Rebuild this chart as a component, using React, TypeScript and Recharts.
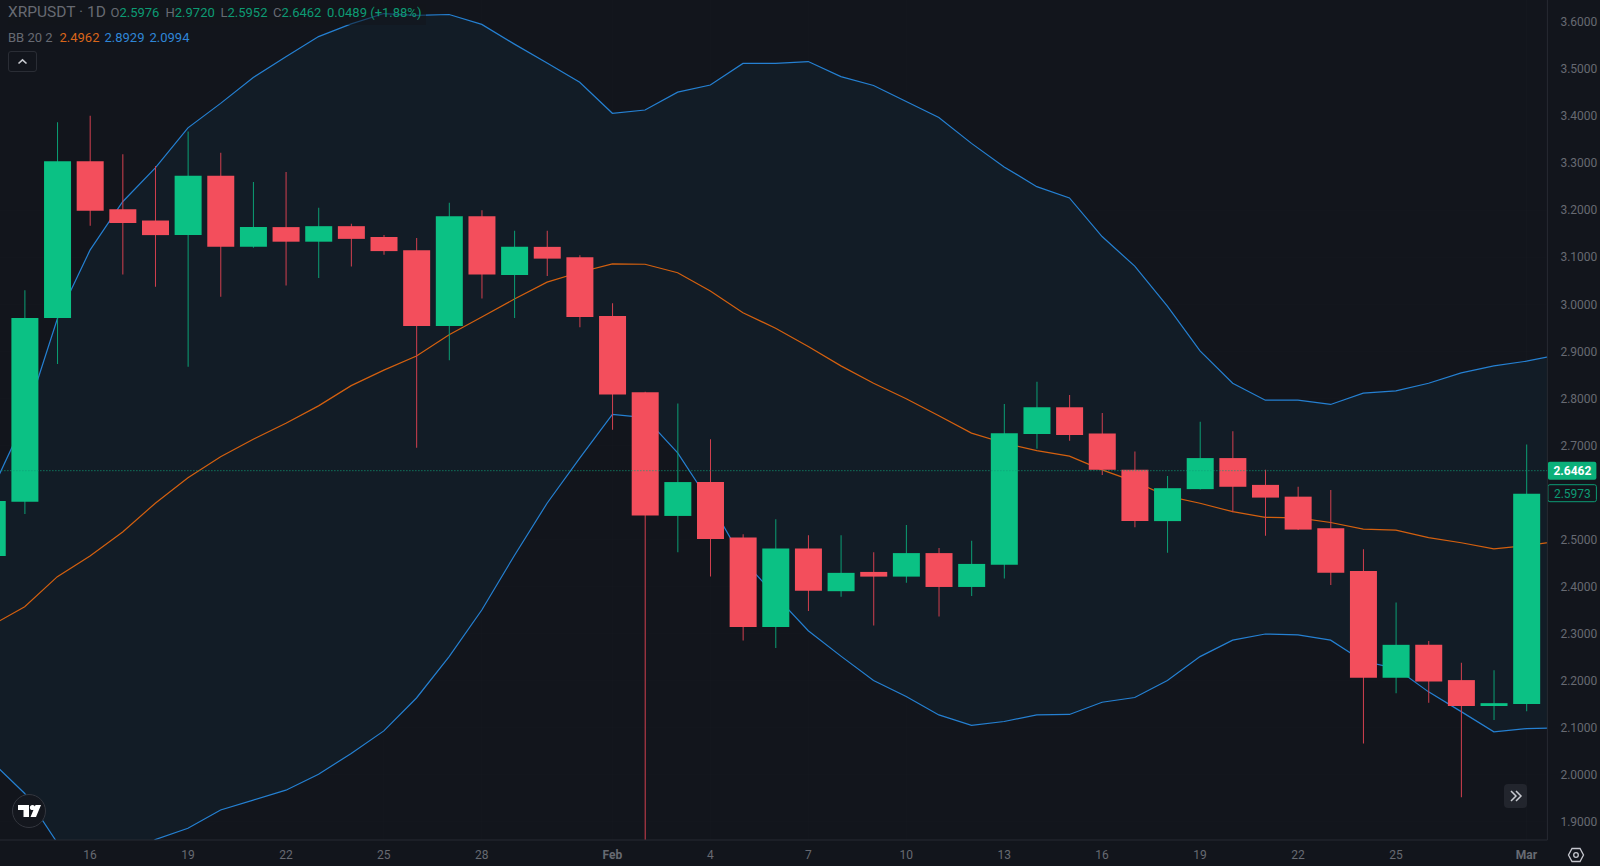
import { Area, Bar, CartesianGrid, Cell, ComposedChart, Line, ReferenceLine, XAxis, YAxis } from "recharts";

// daily candles, first one is Jan 13 (mostly off the left edge), last one is Mar 1
const opens = [2.465, 2.58, 2.971, 3.304, 3.202, 3.178, 3.147, 3.273, 3.122, 3.164, 3.133, 3.166, 3.143, 3.115, 2.954, 3.187, 3.062, 3.122, 3.1, 2.975, 2.813, 2.55, 2.622, 2.504, 2.314, 2.481, 2.39, 2.431, 2.421, 2.471, 2.399, 2.446, 2.724, 2.781, 2.725, 2.648, 2.539, 2.607, 2.673, 2.616, 2.591, 2.524, 2.433, 2.206, 2.276, 2.201, 2.146, 2.15];
const closes = [2.582, 2.971, 3.304, 3.199, 3.173, 3.147, 3.273, 3.122, 3.164, 3.133, 3.166, 3.139, 3.113, 2.954, 3.187, 3.063, 3.122, 3.097, 2.973, 2.808, 2.551, 2.622, 2.501, 2.314, 2.481, 2.391, 2.429, 2.421, 2.471, 2.399, 2.448, 2.726, 2.781, 2.722, 2.648, 2.539, 2.609, 2.673, 2.612, 2.589, 2.521, 2.429, 2.206, 2.276, 2.198, 2.146, 2.152, 2.5973];
const highs = [2.62, 3.03, 3.387, 3.401, 3.319, 3.294, 3.367, 3.322, 3.26, 3.281, 3.205, 3.171, 3.147, 3.141, 3.216, 3.2, 3.156, 3.156, 3.104, 3.002, 2.814, 2.789, 2.713, 2.511, 2.543, 2.509, 2.509, 2.473, 2.531, 2.482, 2.497, 2.788, 2.835, 2.807, 2.769, 2.687, 2.635, 2.75, 2.73, 2.648, 2.612, 2.605, 2.479, 2.366, 2.284, 2.238, 2.222, 2.702];
const lows = [2.44, 2.554, 2.873, 3.167, 3.063, 3.037, 2.867, 3.016, 3.12, 3.04, 3.056, 3.08, 3.105, 2.695, 2.881, 3.012, 2.971, 3.06, 2.951, 2.733, 1.77, 2.473, 2.421, 2.285, 2.269, 2.348, 2.378, 2.317, 2.408, 2.336, 2.38, 2.417, 2.693, 2.71, 2.637, 2.526, 2.472, 2.606, 2.558, 2.508, 2.52, 2.403, 2.066, 2.173, 2.153, 1.952, 2.116, 2.135];

// the bands run one day further, so they reach the right edge of the pane
const bbUpper = [2.605, 2.754, 2.969, 3.115, 3.218, 3.29, 3.375, 3.427, 3.482, 3.526, 3.569, 3.596, 3.618, 3.614, 3.616, 3.595, 3.553, 3.513, 3.472, 3.406, 3.413, 3.451, 3.466, 3.512, 3.512, 3.516, 3.484, 3.465, 3.431, 3.397, 3.342, 3.292, 3.25, 3.226, 3.144, 3.081, 2.996, 2.901, 2.832, 2.796, 2.796, 2.787, 2.811, 2.816, 2.832, 2.854, 2.869, 2.879, 2.8929];
const bbBasis = [2.318, 2.357, 2.421, 2.465, 2.516, 2.577, 2.631, 2.676, 2.713, 2.747, 2.784, 2.827, 2.86, 2.89, 2.935, 2.973, 3.011, 3.047, 3.068, 3.086, 3.085, 3.067, 3.028, 2.982, 2.949, 2.91, 2.869, 2.832, 2.799, 2.763, 2.726, 2.705, 2.689, 2.677, 2.648, 2.623, 2.592, 2.577, 2.559, 2.547, 2.546, 2.536, 2.522, 2.52, 2.504, 2.493, 2.48, 2.487, 2.4962];
const bbLower = [2.027, 1.96, 1.855, 1.815, 1.814, 1.862, 1.886, 1.925, 1.946, 1.967, 2.001, 2.045, 2.093, 2.163, 2.251, 2.35, 2.466, 2.577, 2.673, 2.766, 2.759, 2.684, 2.578, 2.456, 2.38, 2.306, 2.252, 2.2, 2.166, 2.127, 2.105, 2.113, 2.127, 2.128, 2.154, 2.164, 2.2, 2.251, 2.286, 2.299, 2.297, 2.286, 2.241, 2.226, 2.176, 2.134, 2.091, 2.098, 2.0994];

// 2.6000 sits under the price tags in the reference, so it is left out
const priceTicks = [1.9, 2.0, 2.1, 2.2, 2.3, 2.4, 2.5, 2.7, 2.8, 2.9, 3.0, 3.1, 3.2, 3.3, 3.4, 3.5, 3.6];
const dayTicks = [0, 3, 6, 9, 12, 16, 19, 22, 25, 28, 31, 34, 37, 40, 44];
const dayLabels = ["16", "19", "22", "25", "28", "Feb", "4", "7", "10", "13", "16", "19", "22", "25", "Mar"];
const lastPrice = 2.6462;
const prevClose = 2.5973;

const rows = bbUpper.map((upper, i) => ({
  day: i - 3,
  open: opens[i],
  close: closes[i],
  high: highs[i],
  low: lows[i],
  upper,
  basis: bbBasis[i],
  lower: bbLower[i],
}));

const BG = "#12151c";
const BAND = "#121c26";
const UP = "#0bc184";
const DOWN = "#f34e5c";
const UP_WICK = "#0b9f74";
const DOWN_WICK = "#d2404f";
const BLUE = "#2580d2";
const ORANGE = "#d4600f";
const TICK = "#676a72";
const LEGEND_UP = "#0d9b74";
const FONT = "Roboto, sans-serif";

function DayTick({ x, y, payload }: any) {
  const label = dayLabels[dayTicks.indexOf(payload.value)];
  const bold = label === "Feb" || label === "Mar";
  return (
    <text x={x} y={y + 11} textAnchor="middle" fill={TICK} fontSize={12} fontWeight={bold ? 700 : 400} fontFamily={FONT}>
      {label}
    </text>
  );
}

function PriceTag({ viewBox, value, filled }: any) {
  const left = viewBox.x + viewBox.width;
  return (
    <g>
      <rect
        x={left + 0.5}
        y={viewBox.y - 9}
        width={48.5}
        height={filled ? 18 : 17}
        rx={2}
        fill={filled ? "#0bb07a" : BG}
        stroke={filled ? "none" : "#0d9b74"}
      />
      <text x={left + 25} y={viewBox.y + 4} textAnchor="middle" fontSize={12} fontWeight={filled ? 700 : 400} fontFamily={FONT} fill={filled ? "#ffffff" : "#0d9b74"}>
        {value}
      </text>
    </g>
  );
}

const legendRow: React.CSSProperties = { position: "absolute", left: 8, whiteSpace: "pre", fontFamily: FONT };

function Ohlc({ name, value, x }: { name: string; value: string; x: number }) {
  return (
    <span style={{ position: "absolute", left: x, top: 0, whiteSpace: "pre" }}>
      <span style={{ color: TICK }}>{name}</span>
      <span style={{ color: LEGEND_UP }}>{value}</span>
    </span>
  );
}

function Overlay() {
  return (
    <>
      <div style={{ ...legendRow, top: 4, width: 418, height: 21, background: "rgba(18,21,28,0.55)", fontSize: 13, lineHeight: "18px" }}>
        <span style={{ position: "absolute", left: 0, top: -1, color: TICK, fontSize: 15.5 }}>XRPUSDT · 1D</span>
        <Ohlc name="O" value="2.5976" x={102.5} />
        <Ohlc name="H" value="2.9720" x={157.5} />
        <Ohlc name="L" value="2.5952" x={212.5} />
        <Ohlc name="C" value="2.6462" x={265} />
        <span style={{ position: "absolute", left: 319, top: 0, color: LEGEND_UP }}>0.0489 (+1.88%)</span>
      </div>
      <div style={{ ...legendRow, top: 28.5, fontSize: 13, lineHeight: "18px" }}>
        <span style={{ color: TICK }}>BB 20 2</span>
        <span style={{ position: "absolute", left: 51.5, color: "#d9661a" }}>2.4962</span>
        <span style={{ position: "absolute", left: 96.5, color: "#2f86d6" }}>2.8929</span>
        <span style={{ position: "absolute", left: 141.5, color: "#2f86d6" }}>2.0994</span>
      </div>
      <div style={{ position: "absolute", left: 8, top: 51, width: 27, height: 19, border: "1px solid #2a2d35", borderRadius: 3, boxSizing: "content-box" }}>
        <svg width={27} height={19} style={{ display: "block" }}>
          <path d="M9.5 11.5 L13.5 7.8 L17.5 11.5" fill="none" stroke="#c8cad0" strokeWidth={1.6} />
        </svg>
      </div>
      <svg width={36} height={36} style={{ position: "absolute", left: 10.5, top: 793 }}>
        <circle cx={18} cy={18} r={16.5} fill="#14171e" stroke="#33363e" strokeWidth={1} />
        <path d="M7 12 H18 V24 H12.5 V17 H7 Z M19.5 24 L24.5 12 H30 L25 24 Z" fill="#ffffff" />
        <circle cx={21.5} cy={14.5} r={2.6} fill="#ffffff" />
      </svg>
      <div style={{ position: "absolute", left: 1503.5, top: 784, width: 23.5, height: 24, background: "#22252d", borderRadius: 4 }}>
        <svg width={24} height={24} style={{ display: "block" }}>
          <path d="M7 7 L12 12 L7 17 M12 7 L17 12 L12 17" fill="none" stroke="#c8cad0" strokeWidth={1.5} />
        </svg>
      </div>
      <svg width={18} height={18} style={{ position: "absolute", left: 1566.5, top: 846 }}>
        <path d="M5 2.5 H13 L16.5 9 L13 15.5 H5 L1.5 9 Z" fill="none" stroke="#c5c7ce" strokeWidth={1.3} />
        <circle cx={9} cy={9} r={2.3} fill="none" stroke="#c5c7ce" strokeWidth={1.3} />
      </svg>
    </>
  );
}

const wickRange = (d: any) => (d.open === undefined ? null : [d.low, d.high]);
const bodyRange = (d: any) => (d.open === undefined ? null : [Math.min(d.open, d.close), Math.max(d.open, d.close)]);

export default function App() {
  return (
    <div style={{ position: "fixed", left: 0, top: 0, width: 1600, height: 866, background: BG, overflow: "hidden" }}>
      <ComposedChart width={1600} height={866} data={rows} margin={{ top: 0, right: 0, bottom: 0, left: 0 }}>
        <CartesianGrid stroke="rgba(255,255,255,0.012)" xAxisId="main" />
        <XAxis
          xAxisId="main"
          dataKey="day"
          type="number"
          domain={[-2.757, 44.64]}
          allowDataOverflow
          ticks={dayTicks}
          interval={0}
          height={26}
          tick={<DayTick />}
          tickLine={false}
          axisLine={{ stroke: "#272a32" }}
        />
        <XAxis xAxisId="wicks" dataKey="day" type="number" domain={[-2.757, 44.64]} allowDataOverflow hide />
        <YAxis
          orientation="right"
          type="number"
          domain={[1.8611, 3.6468]}
          allowDataOverflow
          ticks={priceTicks}
          interval={0}
          width={52.6}
          tickFormatter={(v: number) => v.toFixed(4)}
          tick={{ fill: TICK, fontSize: 12, fontFamily: FONT }}
          tickLine={false}
          tickMargin={7}
          axisLine={{ stroke: "#272a32" }}
        />
        <Area xAxisId="main" dataKey={(d: any) => [d.lower, d.upper]} type="linear" stroke="none" fill={BAND} fillOpacity={1} isAnimationActive={false} zIndex={100} />
        <Line xAxisId="main" dataKey="upper" type="linear" stroke={BLUE} strokeWidth={1.2} dot={false} isAnimationActive={false} zIndex={200} />
        <Line xAxisId="main" dataKey="lower" type="linear" stroke={BLUE} strokeWidth={1.2} dot={false} isAnimationActive={false} zIndex={200} />
        <Line xAxisId="main" dataKey="basis" type="linear" stroke={ORANGE} strokeWidth={1.2} dot={false} isAnimationActive={false} zIndex={200} />
        <Bar xAxisId="wicks" dataKey={wickRange} barSize={1} isAnimationActive={false} zIndex={300}>
          {rows.map((d) => (
            <Cell key={d.day} fill={d.close >= d.open ? UP_WICK : DOWN_WICK} />
          ))}
        </Bar>
        <Bar xAxisId="main" dataKey={bodyRange} barSize={27} isAnimationActive={false} zIndex={310}>
          {rows.map((d) => (
            <Cell key={d.day} fill={d.close >= d.open ? UP : DOWN} />
          ))}
        </Bar>
        <ReferenceLine
          xAxisId="main"
          y={lastPrice}
          stroke="#0e9f78"
          strokeDasharray="1 2"
          zIndex={400}
          label={(props: any) => <PriceTag {...props} value="2.6462" filled />}
        />
        <ReferenceLine
          xAxisId="main"
          y={prevClose}
          stroke="none"
          zIndex={400}
          label={(props: any) => <PriceTag {...props} value="2.5973" />}
        />
      </ComposedChart>
      <Overlay />
    </div>
  );
}
